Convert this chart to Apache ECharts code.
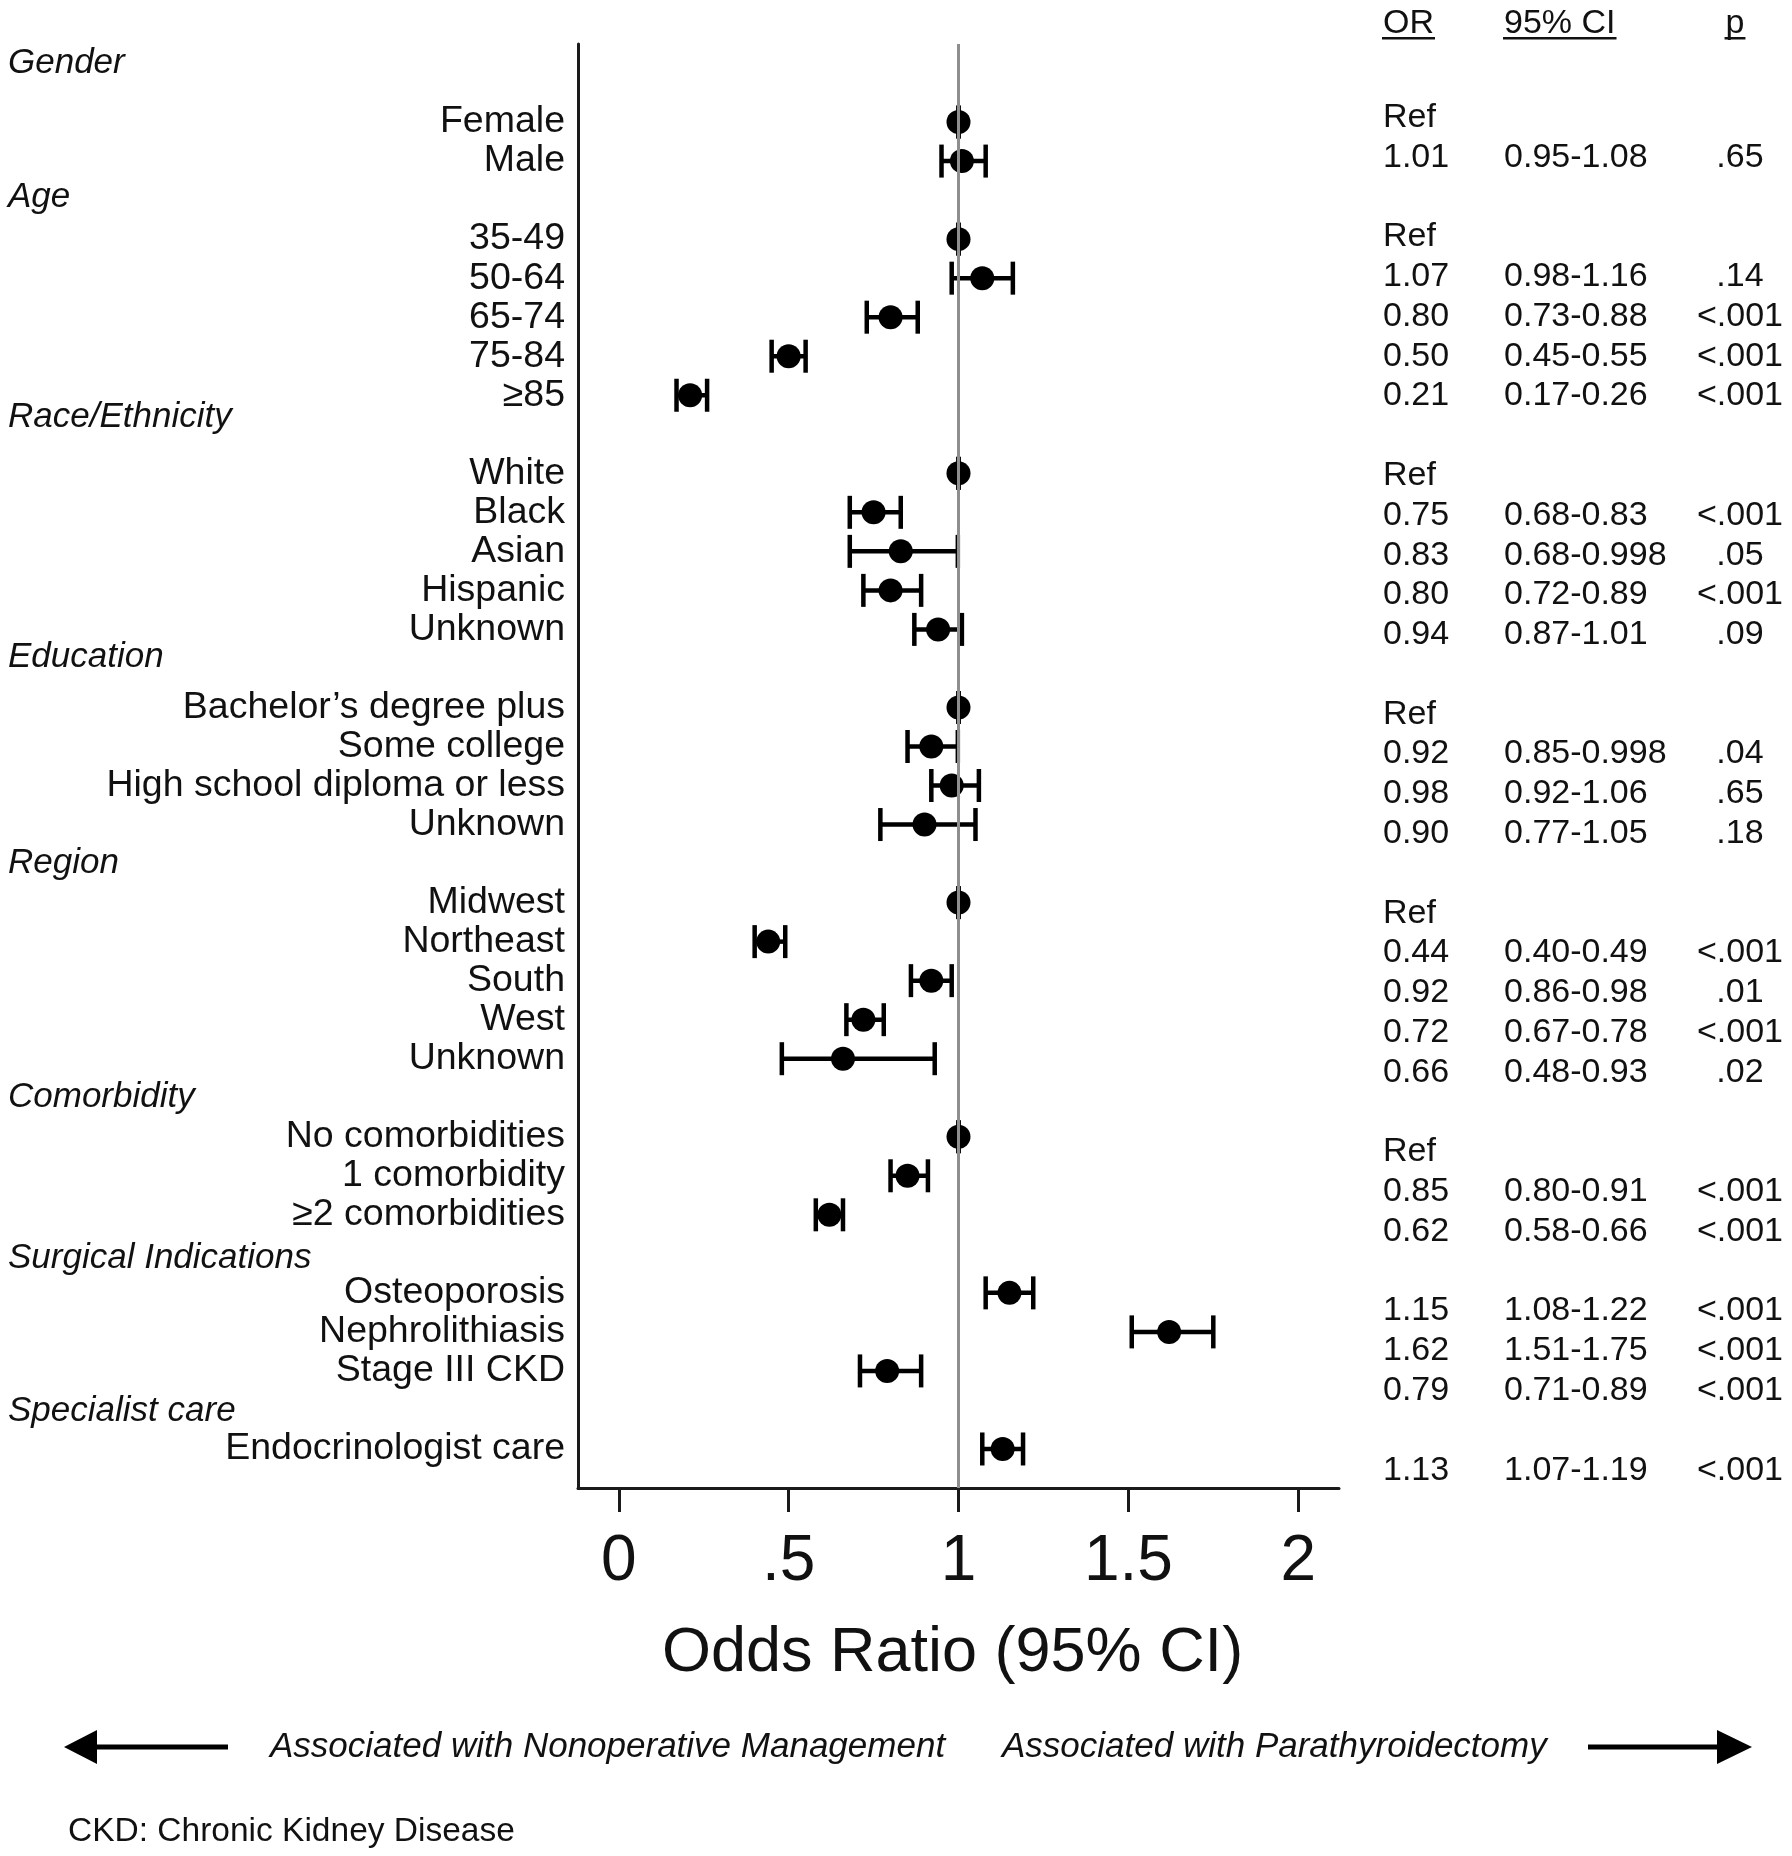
<!DOCTYPE html>
<html><head><meta charset="utf-8">
<script src="https://cdn.jsdelivr.net/npm/echarts@6/dist/echarts.min.js"></script>
<style>html,body{margin:0;padding:0;background:#fff}#main{width:1792px;height:1856px}</style>
</head><body><div id="main"></div>
<script>
// ---------------- data ----------------
const groupNames = ['Gender', 'Age', 'Race/Ethnicity', 'Education', 'Region', 'Comorbidity', 'Surgical Indications', 'Specialist care'];
const rowLabels = ['Female', 'Male',
  '35-49', '50-64', '65-74', '75-84', '≥85',
  'White', 'Black', 'Asian', 'Hispanic', 'Unknown',
  'Bachelor’s degree plus', 'Some college', 'High school diploma or less', 'Unknown',
  'Midwest', 'Northeast', 'South', 'West', 'Unknown',
  'No comorbidities', '1 comorbidity', '≥2 comorbidities',
  'Osteoporosis', 'Nephrolithiasis', 'Stage III CKD',
  'Endocrinologist care'];
const rowGroup = [0, 0, 1, 1, 1, 1, 1, 2, 2, 2, 2, 2, 3, 3, 3, 3, 4, 4, 4, 4, 4, 5, 5, 5, 6, 6, 6, 7];
const orValues = [1, 1.01, 1, 1.07, 0.80, 0.50, 0.21, 1, 0.75, 0.83, 0.80, 0.94, 1, 0.92, 0.98, 0.90, 1, 0.44, 0.92, 0.72, 0.66, 1, 0.85, 0.62, 1.15, 1.62, 0.79, 1.13];
const ciLow = [1, 0.95, 1, 0.98, 0.73, 0.45, 0.17, 1, 0.68, 0.68, 0.72, 0.87, 1, 0.85, 0.92, 0.77, 1, 0.40, 0.86, 0.67, 0.48, 1, 0.80, 0.58, 1.08, 1.51, 0.71, 1.07];
const ciHigh = [1, 1.08, 1, 1.16, 0.88, 0.55, 0.26, 1, 0.83, 0.998, 0.89, 1.01, 1, 0.998, 1.06, 1.05, 1, 0.49, 0.98, 0.78, 0.93, 1, 0.91, 0.66, 1.22, 1.75, 0.89, 1.19];
const orText = ['Ref', '1.01', 'Ref', '1.07', '0.80', '0.50', '0.21', 'Ref', '0.75', '0.83', '0.80', '0.94', 'Ref', '0.92', '0.98', '0.90', 'Ref', '0.44', '0.92', '0.72', '0.66', 'Ref', '0.85', '0.62', '1.15', '1.62', '0.79', '1.13'];
const ciText = ['', '0.95-1.08', '', '0.98-1.16', '0.73-0.88', '0.45-0.55', '0.17-0.26', '', '0.68-0.83', '0.68-0.998', '0.72-0.89', '0.87-1.01', '', '0.85-0.998', '0.92-1.06', '0.77-1.05', '', '0.40-0.49', '0.86-0.98', '0.67-0.78', '0.48-0.93', '', '0.80-0.91', '0.58-0.66', '1.08-1.22', '1.51-1.75', '0.71-0.89', '1.07-1.19'];
const pText = ['', '.65', '', '.14', '<.001', '<.001', '<.001', '', '<.001', '.05', '<.001', '.09', '', '.04', '.65', '.18', '', '<.001', '.01', '<.001', '.02', '', '<.001', '<.001', '<.001', '<.001', '<.001', '<.001'];
const xTickValues = [0, 0.5, 1, 1.5, 2];
const xTickLabels = ['0', '.5', '1', '1.5', '2'];
const tableHeaders = ['OR', '95% CI', 'p'];
const xAxisTitle = 'Odds Ratio (95% CI)';
const leftArrowText = 'Associated with Nonoperative Management';
const rightArrowText = 'Associated with Parathyroidectomy';
const footnote = 'CKD: Chronic Kidney Disease';

// ---------------- row layout (header row + item rows per group) ----------------
const headerRow = [];
const itemRow = new Array(rowLabels.length);
let rr = 0;
groupNames.forEach((g, gi) => {
  headerRow.push(rr++);
  rowGroup.forEach((gg, i) => { if (gg === gi) itemRow[i] = rr++; });
});
const rowLabelByRow = {};
itemRow.forEach((row, i) => { rowLabelByRow[row] = rowLabels[i]; });

// ---------------- style / layout ----------------
const FONT = '"Liberation Sans", Arial, Helvetica, sans-serif';
const INK = '#111';
const ROW_MIN = -1, ROW_MAX = 36;
const PLOT = { left: 578, top: 44, width: 761, height: 1444 };
const TABLE = { left: 1383, top: 38, width: 357, height: 1472 };
const tableColX = [0, 0.339, 1];
const tableColAlign = ['left', 'left', 'center'];
const headerNudge = [-20, -3, -17, -11, 0, 0, 4, 1];

function measure(text, font) {
  const c = document.createElement('canvas').getContext('2d');
  c.font = font;
  return c.measureText(text).width;
}

const chart = echarts.init(document.getElementById('main'), null, { renderer: 'canvas' });

function textColumnSeries(gridIdx, texts, colIdx) {
  return {
    type: 'custom',
    xAxisIndex: gridIdx, yAxisIndex: gridIdx,
    silent: true,
    data: itemRow.map(row => [tableColX[colIdx], row]),
    renderItem(params, api) {
      const p = api.coord([api.value(0), api.value(1)]);
      return {
        type: 'text', x: p[0], y: p[1],
        style: { text: texts[params.dataIndex], fill: INK, font: '34px ' + FONT, align: tableColAlign[colIdx], verticalAlign: 'middle' }
      };
    }
  };
}

const headerFont = '34px ' + FONT;
const tableHeaderGraphics = [];
tableHeaders.forEach((h, i) => {
  const xPix = TABLE.left + tableColX[i] * TABLE.width;
  const w = measure(h, headerFont);
  const x0 = tableColAlign[i] === 'center' ? xPix - 5 - w / 2 : xPix;
  tableHeaderGraphics.push({
    type: 'text', x: x0, y: 24,
    style: { text: h, fill: INK, font: headerFont, align: 'left', verticalAlign: 'middle' }
  });
  tableHeaderGraphics.push({
    type: 'rect', shape: { x: x0 - 1, y: 37, width: w + 2, height: 2.5 },
    style: { fill: INK }
  });
});

const option = {
  backgroundColor: '#fff',
  animation: false,
  grid: [
    { left: PLOT.left, top: PLOT.top, width: PLOT.width, height: PLOT.height, containLabel: false, outerBoundsMode: 'none' },
    { left: 8, top: PLOT.top, width: 540, height: PLOT.height, containLabel: false, outerBoundsMode: 'none' },
    { left: TABLE.left, top: TABLE.top, width: TABLE.width, height: TABLE.height, containLabel: false, outerBoundsMode: 'none' }
  ],
  xAxis: [
    {
      gridIndex: 0, type: 'value', position: 'bottom', min: -0.12, max: 2.12,
      name: xAxisTitle, nameLocation: 'middle', nameGap: 134,
      nameTextStyle: { fontSize: 63, fontFamily: FONT, color: INK, padding: [0, 12, 0, 0] },
      axisLine: { show: true, onZero: false, lineStyle: { color: '#1a1a1a', width: 3 } },
      axisTick: { show: true, customValues: xTickValues, length: 24, lineStyle: { color: '#1a1a1a', width: 3 } },
      axisLabel: {
        show: true, customValues: xTickValues, margin: 42, fontSize: 64, fontFamily: FONT, color: INK,
        formatter: v => xTickLabels[xTickValues.indexOf(v)] ?? ''
      },
      splitLine: { show: false }
    },
    { gridIndex: 1, type: 'value', min: 0, max: 1, show: false },
    { gridIndex: 2, type: 'value', min: 0, max: 1, show: false }
  ],
  yAxis: [
    {
      gridIndex: 0, type: 'value', position: 'left', inverse: true, min: ROW_MIN, max: ROW_MAX,
      axisLine: { show: true, onZero: false, lineStyle: { color: '#1a1a1a', width: 3 } },
      axisTick: { show: false },
      splitLine: { show: false },
      axisLabel: {
        show: true, customValues: itemRow, margin: 13, fontSize: 37.5, fontFamily: FONT, color: INK,
        formatter: v => rowLabelByRow[v] ?? ''
      }
    },
    { gridIndex: 1, type: 'value', inverse: true, min: ROW_MIN, max: ROW_MAX, show: false },
    { gridIndex: 2, type: 'value', inverse: true, min: ROW_MIN, max: ROW_MAX, show: false }
  ],
  series: [
    {
      // reference line at OR = 1
      type: 'line', xAxisIndex: 0, yAxisIndex: 0, data: [], z: 1, silent: true,
      markLine: {
        silent: true, symbol: ['none', 'none'], label: { show: false },
        lineStyle: { color: '#8e8e8e', width: 3, type: 'solid' },
        data: [{ xAxis: 1 }]
      }
    },
    {
      // confidence intervals with caps
      type: 'custom', xAxisIndex: 0, yAxisIndex: 0, z: 3, silent: true,
      data: itemRow.map((row, i) => [ciLow[i], ciHigh[i], row]),
      encode: { x: [0, 1], y: 2 },
      renderItem(params, api) {
        const y = api.value(2);
        const a = api.coord([api.value(0), y]);
        const b = api.coord([api.value(1), y]);
        const h = 16.5;
        const st = { stroke: '#000', lineWidth: 4.5 };
        return {
          type: 'group', children: [
            { type: 'line', shape: { x1: a[0], y1: a[1], x2: b[0], y2: b[1] }, style: st },
            { type: 'line', shape: { x1: a[0], y1: a[1] - h, x2: a[0], y2: a[1] + h }, style: st },
            { type: 'line', shape: { x1: b[0], y1: b[1] - h, x2: b[0], y2: b[1] + h }, style: st }
          ]
        };
      }
    },
    {
      // point estimates
      type: 'scatter', xAxisIndex: 0, yAxisIndex: 0, z: 4, silent: true,
      symbol: 'circle', symbolSize: 24,
      itemStyle: { color: '#000', opacity: 1 },
      data: itemRow.map((row, i) => [orValues[i], row])
    },
    {
      // group headers (left column)
      type: 'custom', xAxisIndex: 1, yAxisIndex: 1, silent: true,
      data: headerRow.map(row => [0, row]),
      renderItem(params, api) {
        const p = api.coord([api.value(0), api.value(1)]);
        return {
          type: 'text', x: p[0], y: p[1] + headerNudge[params.dataIndex],
          style: { text: groupNames[params.dataIndex], fill: INK, font: 'italic 35px ' + FONT, align: 'left', verticalAlign: 'middle' }
        };
      }
    },
    textColumnSeries(2, orText, 0),
    textColumnSeries(2, ciText, 1),
    textColumnSeries(2, pText, 2)
  ],
  graphic: [
    ...tableHeaderGraphics,
    // bottom direction arrows
    { type: 'line', shape: { x1: 228, y1: 1747, x2: 92, y2: 1747 }, style: { stroke: '#000', lineWidth: 5 } },
    { type: 'polygon', shape: { points: [[64, 1747], [97, 1730], [97, 1764]] }, style: { fill: '#000' } },
    { type: 'line', shape: { x1: 1588, y1: 1747, x2: 1722, y2: 1747 }, style: { stroke: '#000', lineWidth: 5 } },
    { type: 'polygon', shape: { points: [[1752, 1747], [1717, 1730], [1717, 1764]] }, style: { fill: '#000' } },
    { type: 'text', x: 270, y: 1747, style: { text: leftArrowText, fill: INK, font: 'italic 35px ' + FONT, align: 'left', verticalAlign: 'middle' } },
    { type: 'text', x: 1002, y: 1747, style: { text: rightArrowText, fill: INK, font: 'italic 35px ' + FONT, align: 'left', verticalAlign: 'middle' } },
    { type: 'text', x: 68, y: 1832, style: { text: footnote, fill: INK, font: '33.5px ' + FONT, align: 'left', verticalAlign: 'middle' } }
  ]
};
chart.setOption(option);
</script>
</body></html>
